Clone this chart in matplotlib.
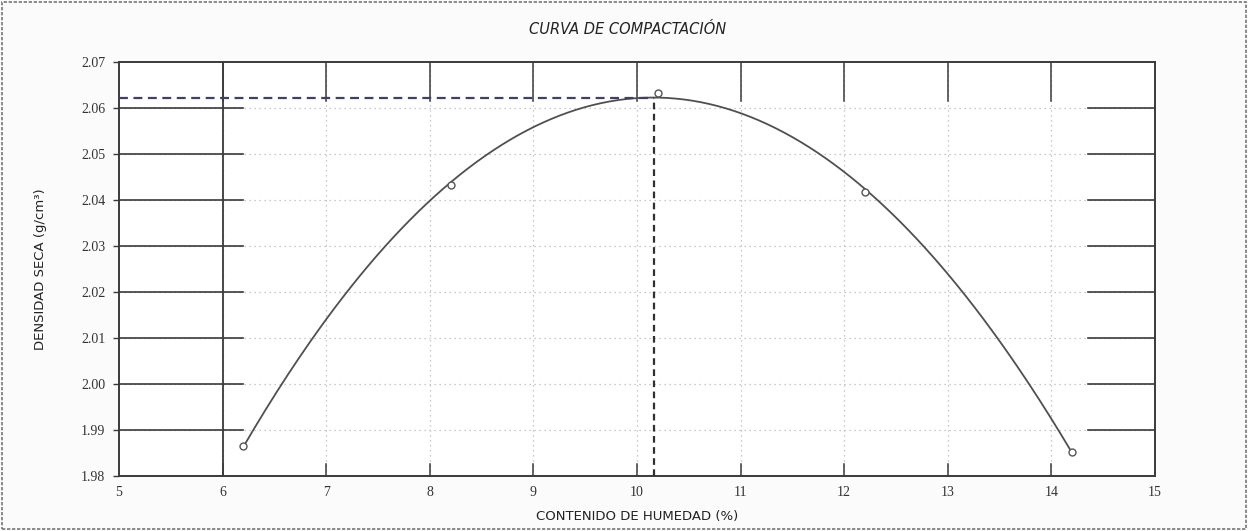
import numpy as np
import matplotlib
matplotlib.use("Agg")
import matplotlib.pyplot as plt
from matplotlib.patches import Rectangle

# Proctor test results
humedad = [6.2, 8.2, 10.2, 12.2, 14.2]          # moisture content (%)
densidad = [1.9865, 2.0432, 2.0632, 2.0418, 1.9852]  # dry density (g/cm3)

x_ticks = [5, 6, 7, 8, 9, 10, 11, 12, 13, 14, 15]
y_ticks = [1.98, 1.99, 2.00, 2.01, 2.02, 2.03, 2.04, 2.05, 2.06, 2.07]

# polynomial trend through the points
coef = np.polyfit(humedad, densidad, 3)
xs = np.linspace(humedad[0], humedad[-1], 300)
ys = np.polyval(coef, xs)
i_max = int(np.argmax(ys))
och, dmax = xs[i_max], ys[i_max]

fig = plt.figure(figsize=(12.48, 5.31), dpi=100)
fig.patch.set_facecolor("#fbfbfb")
ax = fig.add_axes([0.0954, 0.1036, 0.830, 0.7796])
ax.set_facecolor("white")

x0, x1 = 5, 15
y0, y1 = 1.98, 2.07
ax.set_xlim(x0, x1)
ax.set_ylim(y0, y1)

light = "#b8b8b8"
dark = "#3a3a3a"

# faint dotted grid over the whole area
for yv in y_ticks[1:-1]:
    ax.plot([x0, x1], [yv, yv], ls=(0, (1, 3)), color=light, lw=0.9, zorder=1)
    # heavier segments near both sides
    ax.plot([x0, 6.2], [yv, yv], color=dark, lw=1.2, zorder=2)
    ax.plot([14.35, x1], [yv, yv], color=dark, lw=1.2, zorder=2)
for xv in x_ticks[1:-1]:
    ax.plot([xv, xv], [y0, y1], ls=(0, (1, 3)), color=light, lw=0.9, zorder=1)
    ax.plot([xv, xv], [2.0615, y1], color=dark, lw=1.1, zorder=2)
    ax.plot([xv, xv], [y0, 1.9825], color=dark, lw=1.1, zorder=2)
ax.plot([6, 6], [y0, y1], color=dark, lw=1.3, zorder=2)

# fitted curve and test points
ax.plot(xs, ys, color="#505050", lw=1.3, zorder=3)
ax.plot(humedad, densidad, ls="none", marker="o", ms=5, mfc="white",
        mec="#555555", mew=1.0, zorder=4)

# maximum dry density and optimum moisture
ax.plot([x0, och], [dmax, dmax], ls=(0, (4, 2.5)), color="#404060", lw=1.6, zorder=3)
ax.plot([och, och], [y0, dmax], ls=(0, (3, 2)), color="#303030", lw=1.6, zorder=3)

ax.set_xticks(x_ticks)
ax.set_yticks(y_ticks)
ax.set_xticklabels([str(v) for v in x_ticks])
ax.set_yticklabels([f"{v:.2f}" for v in y_ticks])
for lab in ax.get_xticklabels() + ax.get_yticklabels():
    lab.set_fontfamily("Liberation Serif")
    lab.set_fontsize(10)
    lab.set_color("#333333")
ax.tick_params(axis="y", length=4, width=1.0, color=dark, pad=6)
ax.tick_params(axis="x", length=0, pad=7)
for sp in ax.spines.values():
    sp.set_color(dark)
    sp.set_linewidth(1.4)

ax.set_xlabel("CONTENIDO DE HUMEDAD (%)", fontsize=9.5, color="#222222",
              fontfamily="DejaVu Sans", labelpad=8)
ax.set_ylabel("DENSIDAD SECA (g/cm³)", fontsize=9.5, color="#222222",
              fontfamily="DejaVu Sans", labelpad=24)
fig.text(0.503, 0.945, "CURVA DE COMPACTACIÓN", ha="center", va="center",
         fontsize=10.5, style="italic", color="#222222", fontfamily="DejaVu Sans")

# outer frame of the sheet
fig.patches.append(Rectangle((0.002, 0.004), 0.996, 0.992, transform=fig.transFigure,
                             fill=False, ec="#777777", lw=1.2, ls=(0, (2, 1))))

fig.savefig("out.png", dpi=100, facecolor=fig.get_facecolor())
